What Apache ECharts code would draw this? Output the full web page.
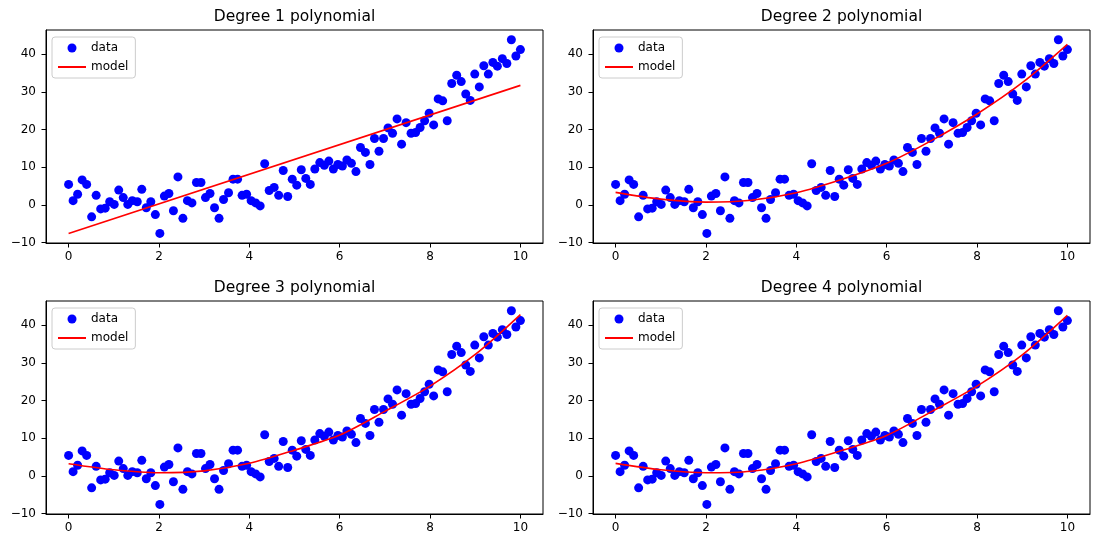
<!DOCTYPE html>
<html>
<head>
<meta charset="utf-8">
<script src="https://cdn.jsdelivr.net/npm/echarts@6/dist/echarts.min.js"></script>
<style>
  html, body { margin: 0; padding: 0; background: #fff; }
  #chart { width: 1099px; height: 545px; }
</style>
</head>
<body>
<div id="chart"></div>
<script>
// sample points, shared by all four panels
const dataX = [
  0.00, 0.10, 0.20, 0.30, 0.40, 0.51, 0.61, 0.71, 0.81, 0.91,
  1.01, 1.11, 1.21, 1.31, 1.41, 1.52, 1.62, 1.72, 1.82, 1.92,
  2.02, 2.12, 2.22, 2.32, 2.42, 2.53, 2.63, 2.73, 2.83, 2.93,
  3.03, 3.13, 3.23, 3.33, 3.43, 3.54, 3.64, 3.74, 3.84, 3.94,
  4.04, 4.14, 4.24, 4.34, 4.44, 4.55, 4.65, 4.75, 4.85, 4.95,
  5.05, 5.15, 5.25, 5.35, 5.45, 5.56, 5.66, 5.76, 5.86, 5.96,
  6.06, 6.16, 6.26, 6.36, 6.46, 6.57, 6.67, 6.77, 6.87, 6.97,
  7.07, 7.17, 7.27, 7.37, 7.47, 7.58, 7.68, 7.78, 7.88, 7.98,
  8.08, 8.18, 8.28, 8.38, 8.48, 8.59, 8.69, 8.79, 8.89, 8.99,
  9.09, 9.19, 9.29, 9.39, 9.49, 9.60, 9.70, 9.80, 9.90, 10.00
]
const dataY = [
  5.4, 1.1, 2.8, 6.6, 5.4, -3.2, 2.5, -1.1, -0.9, 0.8,
  0.1, 3.9, 1.9, 0.1, 1.1, 0.8, 4.1, -0.8, 0.8, -2.6,
  -7.6, 2.3, 3.0, -1.6, 7.4, -3.6, 1.1, 0.5, 5.9, 5.9,
  1.9, 3.0, -0.8, -3.6, 1.4, 3.2, 6.8, 6.8, 2.5, 2.8,
  1.1, 0.5, -0.3, 10.9, 3.8, 4.6, 2.5, 9.1, 2.2, 6.8,
  5.2, 9.3, 7.0, 5.4, 9.5, 11.2, 10.5, 11.6, 9.5, 10.7,
  10.3, 11.9, 11.0, 8.8, 15.2, 13.9, 10.7, 17.6, 14.2, 17.6,
  20.4, 19.0, 22.8, 16.1, 21.8, 19.0, 19.2, 20.5, 22.3, 24.3,
  21.2, 28.1, 27.6, 22.3, 32.2, 34.4, 32.7, 29.4, 27.7, 34.7,
  31.3, 36.9, 34.7, 37.8, 36.8, 38.8, 37.5, 43.8, 39.5, 41.2
]

// model curves
const lineX = [0, 10]
const deg1Y = [-7.6, 31.7]
const curveX = [0, 1, 2, 3, 4, 5, 6, 7, 8, 9, 10]
const deg2Y = [3.3, 1.5, 0.7, 1.2, 3.2, 6.7, 11.0, 17.1, 24.1, 32.4, 42.6]
const deg3Y = [3.2, 1.6, 0.8, 1.3, 3.3, 6.8, 10.8, 17.1, 23.8, 32.2, 42.8]
const deg4Y = [3.3, 1.6, 0.8, 1.2, 3.2, 6.7, 10.7, 17.1, 23.8, 32.1, 42.6]

const titles = ['Degree 1 polynomial', 'Degree 2 polynomial', 'Degree 3 polynomial', 'Degree 4 polynomial']
const xTicks = [0, 2, 4, 6, 8, 10]
const yTicks = [-10, 0, 10, 20, 30, 40]

const FONT = 'DejaVu Sans'
const zip = (xs, ys) => xs.map((x, i) => [x, ys[i]])

const models = [
  zip(lineX, deg1Y),
  zip(curveX, deg2Y),
  zip(curveX, deg3Y),
  zip(curveX, deg4Y)
]

// panel boxes in pixels
const panels = [
  { left: 46, top: 30 },
  { left: 593, top: 30 },
  { left: 46, top: 301 },
  { left: 593, top: 301 }
]
const PW = 497
const PH = 213

const grid = []
const xAxis = []
const yAxis = []
const series = []
const legend = []
const graphic = []

panels.forEach((p, i) => {
  grid.push({
    left: p.left, top: p.top, width: PW, height: PH,
    show: true, borderColor: '#000', borderWidth: 1, backgroundColor: '#fff'
  })
  xAxis.push({
    type: 'value', gridIndex: i, min: -0.5, max: 10.5,
    axisLine: { show: true, onZero: false, lineStyle: { color: '#000', width: 1 } },
    axisTick: { show: true, length: 4.5, customValues: xTicks, lineStyle: { color: '#000' } },
    axisLabel: { customValues: xTicks, margin: 8, color: '#000', fontFamily: FONT, fontSize: 12 },
    splitLine: { show: false }
  })
  yAxis.push({
    type: 'value', gridIndex: i, min: -10.15, max: 46.4,
    axisLine: { show: true, onZero: false, lineStyle: { color: '#000', width: 1 } },
    axisTick: { show: true, length: 4.5, customValues: yTicks, lineStyle: { color: '#000' } },
    axisLabel: {
      customValues: yTicks, margin: 10, color: '#000', fontFamily: FONT, fontSize: 12,
      formatter: v => String(v).replace('-', '\u2212')
    },
    splitLine: { show: false }
  })
  series.push({
    name: 'data', type: 'scatter', xAxisIndex: i, yAxisIndex: i,
    data: zip(dataX, dataY),
    symbolSize: 9,
    itemStyle: { color: '#0000ff', opacity: 1 },
    z: 2
  })
  series.push({
    name: 'model', type: 'line', xAxisIndex: i, yAxisIndex: i,
    data: models[i],
    smooth: i === 0 ? false : 0.3,
    symbol: 'none',
    lineStyle: { color: '#ff0000', width: 1.6 },
    // transparent item colour keeps the legend icon a plain line
    itemStyle: { color: 'rgba(0,0,0,0)' },
    z: 3
  })
  legend.push({
    orient: 'vertical',
    left: p.left + 6, top: p.top + 7,
    data: [{ name: 'data', icon: 'circle' }, { name: 'model' }],
    itemWidth: 28, itemHeight: 9, itemGap: 5,
    padding: [4, 7, 4, 5],
    borderColor: '#ccc', borderWidth: 1, borderRadius: 3,
    backgroundColor: 'rgba(255,255,255,0.8)',
    selectedMode: false,
    textStyle: { fontFamily: FONT, fontSize: 12, color: '#000', lineHeight: 14 }
  })
  graphic.push({
    type: 'text',
    x: p.left + PW / 2, y: p.top - 21,
    style: {
      text: titles[i], fill: '#000', font: '15.5px "DejaVu Sans"',
      textAlign: 'center', textVerticalAlign: 'top'
    }
  })
})

const chart = echarts.init(document.getElementById('chart'), null, { renderer: 'canvas' })
chart.setOption({
  backgroundColor: '#fff',
  animation: false,
  grid, xAxis, yAxis, series, legend, graphic
})
</script>
</body>
</html>
